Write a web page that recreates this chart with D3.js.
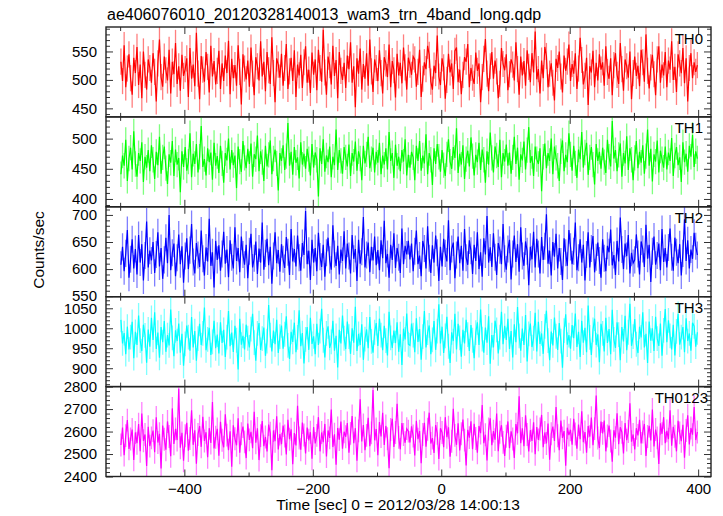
<!DOCTYPE html>
<html><head><meta charset="utf-8">
<script src="https://cdn.jsdelivr.net/npm/d3@7"></script>
<style>body{margin:0;background:#fff} text{font-family:"Liberation Sans",Arial,Helvetica,sans-serif}</style>
</head><body><svg id="c" width="723" height="516"></svg>
<script>
const titleText = "ae406076010_20120328140013_wam3_trn_4band_long.qdp";
const xLabel = "Time [sec] 0 = 2012/03/28 14:00:13";
const yLabel = "Counts/sec";
const seriesNames = ["TH0","TH1","TH2","TH3","TH0123"];
const seriesColors = ["#ff0000","#00ff00","#0000ff","#00ffff","#ff00ff"];
const timeStart = -498.75, binSize = 2.5;
const xTicksMajor = [-400,-200,0,200,400];
const xTicksMinor = [-500,-300,-100,100,300];
const yDomains = [[435,593],[387,536],[549,715],[854,1079],[2400,2800]];
const yTickLabels = [[450,500,550],[400,450,500],[550,600,650,700],[900,950,1000,1050],[2400,2500,2600,2700,2800]];
const yMinorStep = [10,10,10,10,20];
const errTH = [23,21,25,31,51];

const th0 = [532,498,561,487,520,545,503,474,539,512,558,491,527,468,550,509,483,536,521,495,
547,514,462,529,571,505,488,541,517,499,553,476,532,510,565,493,524,481,544,507,
519,538,470,556,502,527,489,583,511,466,542,518,497,549,523,478,560,506,533,492,
516,551,484,529,498,543,512,569,475,537,503,526,490,561,514,457,545,520,501,534,
488,557,511,473,540,524,499,568,506,532,480,549,517,493,575,512,461,538,527,504,
546,490,521,563,484,515,539,498,552,470,527,508,544,486,531,559,495,518,477,548,
509,536,482,553,521,497,588,513,474,541,526,492,560,507,535,468,549,516,500,530,
486,543,519,566,495,524,452,538,511,555,483,528,502,547,490,571,515,479,536,521,
498,552,512,476,540,529,505,562,487,533,517,469,546,508,530,494,557,522,483,539,
527,509,541,536,488,514,553,470,502,531,519,560,544,497,483,525,512,578,506,491,
538,522,467,500,546,513,529,484,551,557,496,518,475,509,540,532,563,487,521,504,
493,548,516,529,461,505,537,572,511,480,524,549,502,534,515,468,493,556,528,517,
545,482,510,536,527,499,566,519,474,541,508,533,490,552,523,496,547,513,585,501,
519,476,534,503,558,542,487,511,529,495,464,537,521,550,506,478,543,516,532,562,
498,528,511,547,484,520,574,535,492,507,539,456,524,513,551,487,530,499,545,518,
531,490,559,514,502,538,473,526,547,509,493,565,519,481,536,524,504,550,466,512,
541,507,525,489,553,531,497,580,516,485,522,544,510,473,536,559,495,527,508,549,
487,534,518,568,500,523,479,545,529,512,556,494,538,462,521,547,503,531,514,526];

const th1 = [441,472,455,498,430,467,485,449,512,458,437,476,463,494,428,470,452,481,446,489,
465,433,478,456,503,442,469,487,451,425,474,460,496,438,482,457,468,411,479,453,
486,447,462,509,436,475,458,491,444,470,521,453,466,439,484,461,477,432,493,455,
471,443,488,459,427,476,464,500,449,481,456,472,418,487,462,445,496,468,451,483,
458,492,437,474,466,505,446,479,461,430,488,454,473,497,441,467,482,459,414,476,
463,489,448,471,526,455,478,440,486,460,469,434,494,457,475,450,483,466,439,491,
452,477,465,404,484,458,499,445,472,461,487,436,470,456,515,448,481,463,442,486,
469,454,490,438,476,462,495,447,479,467,431,488,459,474,503,451,466,485,444,478,
460,493,441,472,457,484,449,511,463,476,435,490,455,470,446,481,462,499,439,473,
452,478,469,431,488,463,496,447,472,459,507,441,476,465,423,484,458,491,470,445,
481,456,438,474,499,462,450,486,468,517,443,475,457,489,433,466,480,454,502,471,
439,473,461,493,448,482,465,427,479,457,510,468,444,487,472,453,498,436,476,462,
490,455,477,442,469,503,458,485,432,474,464,495,449,481,519,460,471,438,487,466,
458,484,413,470,492,451,476,463,500,441,487,468,455,430,479,497,446,473,461,509,
474,447,488,459,435,482,466,511,452,477,493,440,469,486,457,424,491,463,478,450,
485,461,443,498,470,454,529,467,481,446,473,492,437,476,459,504,448,484,465,431,
468,496,451,478,460,489,442,471,515,455,483,429,474,462,497,444,480,466,452,487,
449,477,463,501,438,472,486,456,469,428,494,461,475,445,488,470,506,453,479,467];

const th2 = [608,641,596,629,672,584,618,655,601,637,590,663,612,646,579,625,688,603,634,616,
650,593,627,668,605,639,582,617,658,611,700,598,630,647,587,621,664,609,642,575,
624,657,600,635,683,613,592,648,626,604,671,619,588,640,614,693,606,631,566,652,
617,644,597,628,669,610,636,585,653,622,601,677,615,639,594,660,627,608,645,583,
633,665,603,620,651,591,638,612,686,599,629,656,607,641,573,624,668,611,635,595,
646,618,602,659,631,589,674,614,637,605,662,621,597,648,626,707,609,634,580,654,
612,639,596,667,623,604,645,586,630,658,617,599,681,628,606,643,590,636,615,670,
601,647,624,592,663,619,637,578,654,610,632,696,603,626,649,594,641,616,660,607,
635,598,653,620,689,611,628,584,645,617,666,602,639,622,593,675,609,643,627,652,
618,647,596,633,671,609,625,587,652,638,601,679,620,593,644,612,662,630,578,641,
605,656,629,614,690,598,637,649,583,626,660,611,643,597,674,621,608,653,634,591,
645,615,668,600,631,586,657,627,698,612,640,604,666,622,589,648,635,609,683,619,
599,637,654,581,628,662,613,646,595,677,624,606,651,633,570,641,618,669,603,656,
628,592,659,617,642,701,610,634,588,650,623,665,601,639,614,580,657,630,606,672,
641,609,633,686,598,621,655,612,645,579,627,668,603,638,661,594,622,649,616,584,
655,620,596,643,631,673,607,626,589,652,614,695,636,600,647,624,663,592,630,611,
617,664,628,590,651,637,604,682,619,645,576,633,660,608,625,647,598,674,613,639,
603,640,675,622,597,658,631,611,646,588,629,692,615,653,601,636,619,667,642,626];

const th3 = [1021,962,988,935,1004,947,978,1016,925,991,958,1032,969,943,1009,982,914,997,954,1026,
971,1040,948,989,926,1003,965,1018,941,983,957,1047,976,930,995,968,1012,939,986,906,
961,1007,978,944,1028,952,993,919,974,1011,958,987,1052,945,972,1001,933,966,1019,950,
984,937,1015,963,996,928,978,1043,955,989,941,1006,970,897,1024,959,981,947,1009,975,
952,998,1036,964,919,987,1013,946,974,1002,931,968,1058,983,942,994,960,1021,938,979,
1007,949,985,1030,957,923,991,966,1014,940,977,1045,955,988,912,972,1003,946,1026,961,
980,935,1011,958,993,1049,970,927,987,1005,951,966,1019,944,981,902,996,962,1032,975,
948,1017,979,936,1000,964,1054,943,986,958,1010,921,973,997,950,1028,967,939,990,1013,
956,1024,983,945,1006,969,932,1041,976,951,994,963,1015,941,985,908,999,972,1037,960,
957,1012,983,940,1025,966,998,921,979,1043,952,989,1007,935,971,1018,946,993,1060,962,
1004,938,981,1029,955,913,990,968,1036,947,1011,976,929,996,962,1021,984,943,1008,970,
925,989,1015,958,1047,973,939,1002,964,1030,911,983,952,1019,996,937,978,1041,960,1006,
971,1024,948,993,927,1010,965,1053,981,944,999,958,1033,917,986,1012,953,975,1039,942,
1016,961,987,936,1005,1044,969,920,992,957,1027,980,946,1013,968,901,994,1035,959,983,
949,1008,975,1037,953,991,928,1019,964,1001,940,1057,977,933,996,1024,958,985,915,1011,
987,942,1026,963,998,935,1046,972,951,1015,984,920,1003,967,1031,945,990,1061,956,979,
1023,960,938,1004,977,1040,952,986,913,1017,969,1000,943,1029,974,956,1012,931,995,1048,
965,1020,981,947,1009,932,992,1036,959,978,1003,940,1025,968,987,944,1014,1005,954,990];

const th0123 = [2540,2618,2495,2582,2651,2523,2567,2609,2474,2596,2548,2633,2512,2680,2559,2587,2447,2621,2535,2572,
2604,2508,2663,2551,2590,2436,2627,2566,2519,2645,2578,2490,2703,2545,2612,2562,2790,2528,2594,2470,
2581,2639,2515,2569,2695,2541,2606,2457,2587,2624,2532,2666,2558,2597,2486,2615,2549,2731,2525,2575,
2612,2492,2643,2561,2530,2677,2584,2517,2601,2443,2628,2568,2539,2659,2506,2590,2622,2554,2482,2636,
2563,2599,2526,2688,2550,2614,2473,2582,2647,2535,2576,2511,2631,2593,2428,2605,2557,2668,2520,2589,
2544,2627,2580,2498,2652,2566,2610,2455,2593,2538,2715,2571,2519,2640,2585,2503,2618,2561,2597,2479,
2620,2547,2583,2664,2512,2596,2553,2634,2489,2605,2572,2698,2531,2588,2452,2616,2564,2645,2524,2599,
2577,2638,2506,2592,2669,2548,2615,2470,2603,2744,2556,2629,2517,2583,2661,2535,2594,2785,2561,2611,
2495,2642,2578,2683,2540,2625,2568,2437,2609,2657,2531,2596,2724,2574,2521,2638,2587,2550,2613,2602,
2551,2623,2580,2494,2648,2566,2602,2459,2587,2639,2533,2610,2684,2547,2571,2505,2629,2592,2478,2615,
2596,2530,2664,2575,2619,2488,2557,2701,2583,2541,2637,2516,2590,2653,2562,2449,2608,2573,2646,2521,
2634,2569,2506,2625,2593,2718,2548,2586,2471,2611,2659,2539,2602,2564,2680,2513,2597,2628,2552,2491,
2579,2645,2526,2601,2567,2482,2633,2592,2757,2548,2614,2535,2672,2587,2511,2606,2558,2641,2499,2620,
2563,2611,2674,2530,2596,2547,2636,2475,2590,2622,2558,2709,2581,2517,2649,2572,2602,2448,2617,2584,
2608,2541,2657,2589,2524,2631,2566,2690,2553,2598,2506,2625,2577,2662,2539,2613,2760,2571,2527,2644,
2592,2649,2512,2580,2627,2558,2466,2606,2573,2681,2544,2619,2597,2503,2638,2562,2600,2726,2555,2587,
2520,2615,2583,2652,2547,2598,2634,2491,2578,2625,2560,2698,2534,2609,2572,2456,2637,2590,2664,2548,
2603,2566,2695,2537,2621,2579,2512,2648,2594,2557,2630,2484,2605,2672,2543,2616,2586,2709,2562,2598];

const seriesValues = [th0, th1, th2, th3, th0123];

const svg = d3.select("#c");
const L = 106, R = 711, T = 27, B = 476.5;
const nP = seriesValues.length;
const pH = (B - T) / nP;
const x = d3.scaleLinear().domain([-522, 420]).range([L, R]);
const FS = 15;

svg.append("text").attr("x", 107).attr("y", 20).attr("font-size", 16).attr("fill", "#000").text(titleText);

seriesValues.forEach((vals, i) => {
  const top = T + i * pH, bot = top + pH;
  const y = d3.scaleLinear().domain(yDomains[i]).range([bot, top]);
  const g = svg.append("g");
  const cid = "clip" + i;
  svg.append("clipPath").attr("id", cid).append("rect").attr("x", L).attr("y", top).attr("width", R - L).attr("height", pH);
  const dg = g.append("g").attr("clip-path", `url(#${cid})`);
  const pts = vals.map((v, j) => ({t: timeStart + j * binSize, v}));
  const e = errTH[i];
  dg.selectAll("line.err").data(pts).join("line").attr("class", "err")
    .attr("x1", d => x(d.t)).attr("x2", d => x(d.t))
    .attr("y1", d => y(d.v - e)).attr("y2", d => y(d.v + e))
    .attr("stroke", seriesColors[i]).attr("stroke-opacity", 0.5).attr("stroke-width", 1.3);
  dg.append("path").datum(pts).attr("fill", "none").attr("stroke", seriesColors[i]).attr("stroke-width", 1.2)
    .attr("d", d3.line().x(d => x(d.t)).y(d => y(d.v)));

  const [d0, d1] = yDomains[i];
  const st = yMinorStep[i];
  const minor = d3.range(Math.ceil(d0 / st) * st, d1 + 1e-9, st).filter(v => !yTickLabels[i].includes(v));
  const styleAxis = sel => { sel.select(".domain").remove(); sel.selectAll("line").attr("stroke", "#333"); sel.selectAll("text").attr("font-size", FS).attr("fill", "#000").attr("font-family", '"Liberation Sans",Arial,sans-serif'); };
  svg.append("g").attr("transform", `translate(${L},0)`).call(d3.axisLeft(y).tickValues(minor).tickSize(-4).tickFormat("")).call(styleAxis);
  svg.append("g").attr("transform", `translate(${L},0)`).call(d3.axisLeft(y).tickValues(yTickLabels[i]).tickSize(-7).tickPadding(9).tickFormat(d3.format("d"))).call(styleAxis);
  svg.append("g").attr("transform", `translate(${R},0)`).call(d3.axisRight(y).tickValues(minor).tickSize(-4).tickFormat("")).call(styleAxis);
  svg.append("g").attr("transform", `translate(${R},0)`).call(d3.axisRight(y).tickValues(yTickLabels[i]).tickSize(-7).tickFormat("")).call(styleAxis);
  svg.append("g").attr("transform", `translate(0,${top})`).call(d3.axisTop(x).tickValues(xTicksMinor).tickSize(-4).tickFormat("")).call(styleAxis);
  svg.append("g").attr("transform", `translate(0,${top})`).call(d3.axisTop(x).tickValues(xTicksMajor).tickSize(-7).tickFormat("")).call(styleAxis);
  svg.append("g").attr("transform", `translate(0,${bot})`).call(d3.axisBottom(x).tickValues(xTicksMinor).tickSize(-4).tickFormat("")).call(styleAxis);
  svg.append("g").attr("transform", `translate(0,${bot})`).call(d3.axisBottom(x).tickValues(xTicksMajor).tickSize(-7).tickPadding(7)
      .tickFormat(i === nP - 1 ? (d => d < 0 ? "\u2212" + Math.abs(d) : String(d)) : "")).call(styleAxis);

  svg.append("rect").attr("x", L).attr("y", top).attr("width", R - L).attr("height", pH)
    .attr("fill", "none").attr("stroke", "#222").attr("stroke-width", 1.4);

  svg.append("text").attr("x", i === nP - 1 ? 708 : 703).attr("y", top + 16.5).attr("text-anchor", "end")
    .attr("font-size", FS).attr("fill", "#000").text(seriesNames[i]);
});

svg.append("text").attr("x", 398).attr("y", 510).attr("text-anchor", "middle").attr("font-size", 15.5).attr("fill", "#000").text(xLabel);
svg.append("text").attr("transform", "translate(44,250) rotate(-90)").attr("text-anchor", "middle").attr("font-size", 15.5).attr("fill", "#000").text(yLabel);
</script></body></html>
